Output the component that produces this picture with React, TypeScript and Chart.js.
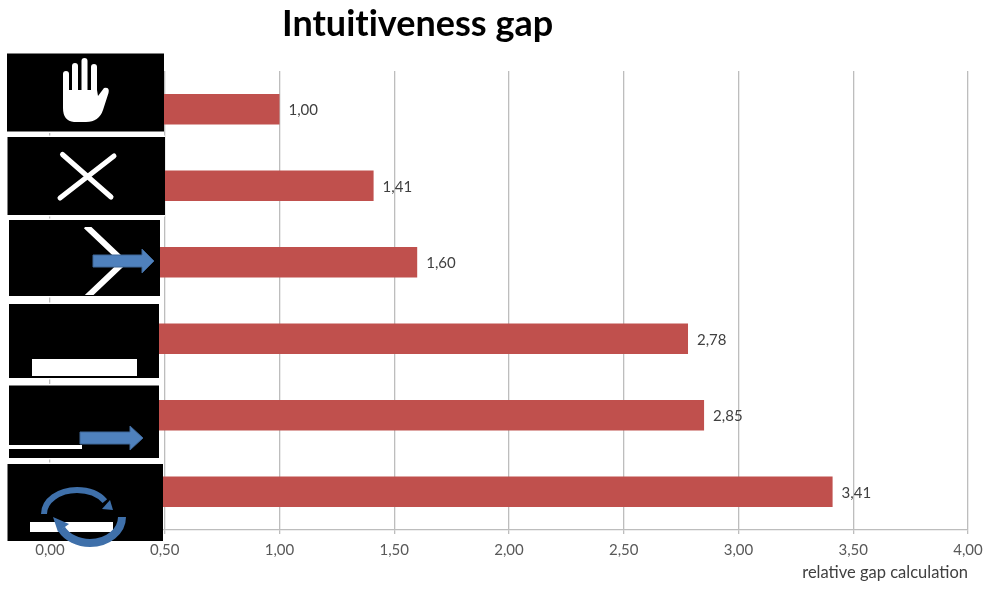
import React, { useEffect, useRef } from "react";
import { Chart, registerables } from "chart.js";

Chart.register(...registerables);

const CATEGORIES = ["Stop hand", "Cross", "Chevron with arrow", "Bar", "Short bar with arrow", "Bar with rotation"];
const GAP_VALUES = [1.0, 1.41, 1.6, 2.78, 2.85, 3.41];
const CHART_TITLE = "Intuitiveness gap";
const AXIS_TITLE = "relative gap calculation";

const BLUE = "#4f81bd";
const BLUE_DARK = "#3f6797";
const BLUE_RING = "#3f70aa";
const comma = (v: number) => v.toFixed(2).replace(".", ",");

function line(ctx: CanvasRenderingContext2D, pts: number[][], w: number, cap: CanvasLineCap = "butt") {
  ctx.save();
  ctx.strokeStyle = "#fff";
  ctx.lineWidth = w;
  ctx.lineCap = cap;
  ctx.beginPath();
  pts.forEach((p, i) => (i ? ctx.lineTo(p[0], p[1]) : ctx.moveTo(p[0], p[1])));
  ctx.stroke();
  ctx.restore();
}

function blueArrow(ctx: CanvasRenderingContext2D, x0: number, x1: number, head: number, cy: number, hs: number, hh: number) {
  ctx.save();
  ctx.fillStyle = BLUE;
  ctx.strokeStyle = BLUE_DARK;
  ctx.lineWidth = 1;
  ctx.beginPath();
  ctx.moveTo(x0, cy - hs);
  ctx.lineTo(x1, cy - hs);
  ctx.lineTo(x1, cy - hh);
  ctx.lineTo(head, cy);
  ctx.lineTo(x1, cy + hh);
  ctx.lineTo(x1, cy + hs);
  ctx.lineTo(x0, cy + hs);
  ctx.closePath();
  ctx.fill();
  ctx.stroke();
  ctx.restore();
}

function box(ctx: CanvasRenderingContext2D, x0: number, y0: number, x1: number, y1: number) {
  ctx.fillStyle = "#fff";
  ctx.fillRect(x0 - 1.5, y0 - 1.5, x1 - x0 + 1.5, y1 - y0 + 3);
  ctx.fillStyle = "#000";
  ctx.fillRect(x0, y0, x1 - x0, y1 - y0);
}

function arcArrow(
  ctx: CanvasRenderingContext2D,
  cx: number, cy: number, rx: number, ry: number, a0: number, a1: number, w: number,
  tip: number[], b1: number[], b2: number[]
) {
  ctx.save();
  ctx.strokeStyle = BLUE_RING;
  ctx.fillStyle = BLUE_RING;
  ctx.lineWidth = w;
  ctx.beginPath();
  ctx.ellipse(cx, cy, rx, ry, 0, a0, a1, false);
  ctx.stroke();
  ctx.beginPath();
  ctx.moveTo(tip[0], tip[1]);
  ctx.lineTo(b1[0], b1[1]);
  ctx.lineTo(b2[0], b2[1]);
  ctx.closePath();
  ctx.fill();
  ctx.restore();
}

const iconsPlugin = {
  id: "icons",
  afterDraw(chart: any) {
    const ctx: CanvasRenderingContext2D = chart.ctx;
    ctx.save();

    // stop hand
    box(ctx, 7, 53.5, 164, 131.5);
    line(ctx, [[66, 92], [66, 74]], 6, "round");
    line(ctx, [[75, 92], [75, 66]], 6, "round");
    line(ctx, [[84.5, 92], [84.5, 61]], 6, "round");
    line(ctx, [[94, 92], [94, 67]], 6, "round");
    ctx.fillStyle = "#fff";
    ctx.beginPath();
    ctx.moveTo(63, 90);
    ctx.lineTo(97, 90);
    ctx.lineTo(98, 96);
    ctx.lineTo(104, 88);
    ctx.quadraticCurveTo(110, 87, 108.5, 93);
    ctx.lineTo(103, 110);
    ctx.quadraticCurveTo(99, 122, 86, 122);
    ctx.lineTo(74, 122);
    ctx.quadraticCurveTo(63, 121, 63, 108);
    ctx.closePath();
    ctx.fill();

    // cross
    box(ctx, 7.5, 137, 165, 215);
    line(ctx, [[62.5, 154.5], [111, 197]], 5, "round");
    line(ctx, [[114, 156], [60, 198]], 5, "round");

    // chevron with arrow
    box(ctx, 9, 220, 160, 296);
    ctx.save();
    ctx.beginPath();
    ctx.rect(9, 227, 151, 68);
    ctx.clip();
    line(ctx, [[86, 226], [124, 262], [86, 298]], 6);
    ctx.restore();
    blueArrow(ctx, 93, 142, 154, 261, 6, 12);

    // bar
    box(ctx, 9, 304, 159, 378);
    ctx.fillStyle = "#fff";
    ctx.fillRect(32, 359, 105, 17);

    // short bar with arrow
    box(ctx, 9, 385.5, 159, 458);
    ctx.fillStyle = "#fff";
    ctx.fillRect(9, 445, 73, 4);
    blueArrow(ctx, 80, 130, 143, 438, 6, 12);

    // bar with rotation
    box(ctx, 7.5, 464, 163, 541);
    ctx.fillStyle = "#fff";
    ctx.fillRect(30, 522, 83, 10);
    arcArrow(ctx, 77, 514, 33, 24, Math.PI * 1.0, Math.PI * 1.82, 6, [113, 510], [102, 509], [110, 500]);
    arcArrow(ctx, 90, 517, 32, 26, Math.PI * 0.0, Math.PI * 0.85, 8, [53, 517], [69, 524], [58, 532]);

    ctx.restore();
  },
};

const valueLabelsPlugin = {
  id: "valueLabels",
  afterDatasetsDraw(chart: any) {
    const ctx: CanvasRenderingContext2D = chart.ctx;
    const meta = chart.getDatasetMeta(0);
    ctx.save();
    ctx.font = "15px Lato";
    ctx.fillStyle = "#404040";
    ctx.textBaseline = "middle";
    meta.data.forEach((bar: any, i: number) => {
      ctx.fillText(comma(GAP_VALUES[i]), bar.x + 9, bar.y + 1);
    });
    ctx.restore();
  },
};

export default function App() {
  const ref = useRef<HTMLCanvasElement>(null);

  useEffect(() => {
    document.body.style.margin = "0";
    const chart = new Chart(ref.current!, {
      type: "bar",
      data: {
        labels: CATEGORIES,
        datasets: [
          {
            data: GAP_VALUES,
            backgroundColor: "#c0504d",
            barPercentage: 0.4,
            categoryPercentage: 1,
          },
        ],
      },
      options: {
        indexAxis: "y",
        responsive: false,
        animation: false,
        layout: { padding: { left: 50, right: 22, top: 71, bottom: 0 } },
        plugins: { legend: { display: false }, tooltip: { enabled: false } },
        scales: {
          y: { display: false, grid: { display: false } },
          x: {
            min: 0,
            max: 4,
            afterFit(scale: any) {
              scale.height = 61;
            },
            grid: { color: "#bdbdbd", lineWidth: 1.3, tickLength: 4 },
            border: { color: "#bdbdbd", width: 1.3 },
            ticks: {
              stepSize: 0.5,
              maxRotation: 0,
              color: "#595959",
              padding: 7,
              font: { family: "Lato", size: 15 },
              callback: (v: any) => comma(Number(v)),
            },
            title: {
              display: true,
              text: AXIS_TITLE,
              align: "end",
              color: "#404040",
              font: { family: "Lato", size: 16.5 },
              padding: { top: 2, bottom: 8 },
            },
          },
        },
      },
      plugins: [valueLabelsPlugin, iconsPlugin],
    });
    return () => chart.destroy();
  }, []);

  return (
    <div style={{ position: "relative", width: 990, height: 591, overflow: "hidden", background: "#fff" }}>
      <canvas ref={ref} width={990} height={591} style={{ display: "block", filter: "blur(0.5px)" }} />
      <div
        style={{
          position: "absolute",
          left: 282,
          top: 0,
          fontFamily: "Lato",
          fontWeight: 700,
          fontSize: 36,
          fontVariantLigatures: "none",
          lineHeight: "44px",
          color: "#000",
          whiteSpace: "nowrap",
        }}
      >
        {CHART_TITLE}
      </div>
    </div>
  );
}
